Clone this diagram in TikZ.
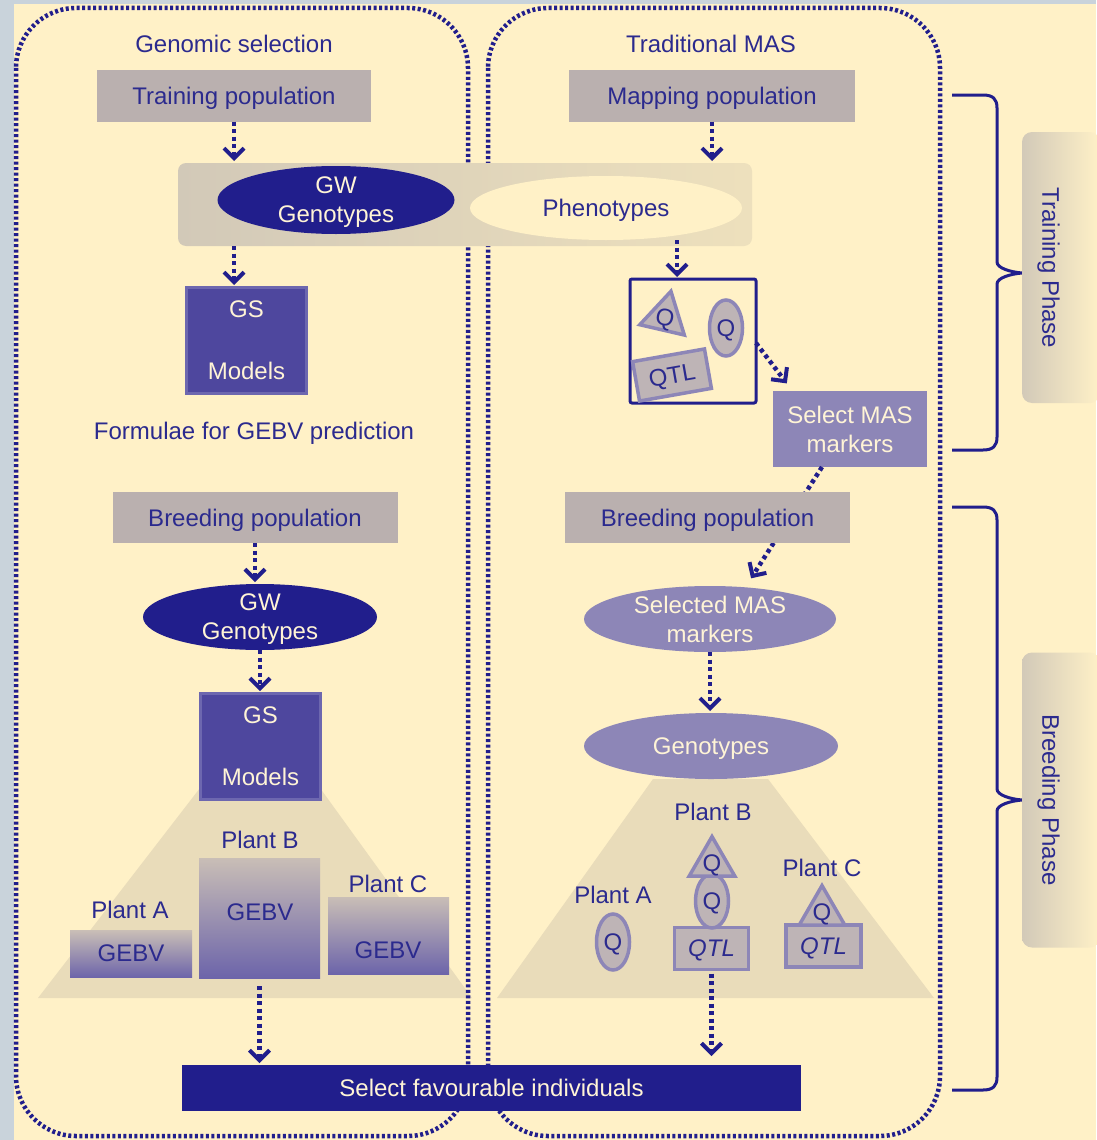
\documentclass[tikz,border=0pt]{standalone}
\usepackage{fontspec}
\setmainfont{Liberation Sans}
\usetikzlibrary{arrows.meta,shapes.geometric,calc}
\definecolor{navy}{HTML}{211E8C}
\definecolor{txt}{HTML}{2B2A8E}
\definecolor{cream}{HTML}{FFF1C7}
\definecolor{light}{HTML}{FFF4D6}
\definecolor{boxgrey}{HTML}{BAB0AF}
\definecolor{lav}{HTML}{8D86B7}
\definecolor{shapefill}{HTML}{BEB4B6}
\definecolor{trap}{HTML}{E9DCBA}
\definecolor{gsfill}{HTML}{4E479E}
\definecolor{gsedge}{HTML}{6D67AF}
\definecolor{frame}{HTML}{C9D3DB}
\definecolor{phgrey}{HTML}{D2C9B8}
\definecolor{gebvtop}{HTML}{C9BEB6}
\definecolor{gebvbot}{HTML}{6C64AA}
\tikzset{
  conn/.style={navy, line width=4.5pt, dash pattern=on 4pt off 3.5pt,
    -{Straight Barb[length=10pt,width=20pt,line width=4pt]}, shorten >=2pt},
  panel/.style={navy, line width=4.5pt, dash pattern=on 3pt off 2.5pt, rounded corners=60pt},
  gbox/.style={fill=boxgrey, minimum height=51pt},
  gsbox/.style={fill=gsfill, draw=gsedge, line width=3pt, text=light, align=center,
    minimum width=120pt, minimum height=106pt},
  gebv/.style={top color=gebvtop, bottom color=gebvbot},
  qell/.style={ellipse, fill=shapefill, draw=lav, line width=3.5pt, minimum width=33pt, minimum height=56pt},
  qtri/.style={regular polygon, regular polygon sides=3, fill=shapefill, draw=lav, line width=3.5pt, minimum size=50pt},
  qrect/.style={fill=shapefill, draw=lav, line width=3.5pt},
  brace/.style={navy, line width=3pt},
  phase/.style={rounded corners=10pt, left color=phgrey, right color=cream},
}
\begin{document}
\begin{tikzpicture}[x=1pt,y=-1pt,font=\fontsize{24}{29}\selectfont,
  every node/.style={inner sep=0pt,outer sep=0pt,text=txt,text depth=0pt}]
\useasboundingbox (0,0) rectangle (1096,1140);
\fill[frame] (0,0) rectangle (1096,1140);
\fill[cream] (14,4) rectangle (1096,1140);
% trapezoids
\fill[trap] (200,788) -- (320,788) -- (472,998) -- (38,998) -- cycle;
\fill[trap] (653,779) -- (768,779) -- (934,998) -- (497,998) -- cycle;
% panels
\draw[panel] (16,8) rectangle (468,1136);
\draw[panel] (488,8) rectangle (940,1136);

% titles
\node (gstitle) at (234,44) {Genomic selection};
\node (mastitle) at (711,44) {Traditional MAS};
\node[gbox, minimum width=274pt] (train) at (234,96) {Training population};
\node[gbox, minimum width=286pt] (mapp) at (712,96) {Mapping population};
\node[rounded corners=8pt, left color=phgrey, right color=trap!80!cream, minimum width=574pt, minimum height=83pt] (gwbar) at (465,204.5) {};
\node[ellipse, fill=navy, text=light, minimum width=237pt, minimum height=68pt, align=center, inner ysep=-4pt] (gw1) at (336,200) {GW\\Genotypes};
\node[ellipse, fill=cream, minimum width=272pt, minimum height=64pt] (pheno) at (606,208) {Phenotypes};

% left column
\node[gsbox] (gsm1) at (246.5,340) {GS\\[33pt]Models};
\node (formula) at (254,431) {Formulae for GEBV prediction};
\node[gbox, minimum width=285pt] (bp1) at (255,517.5) {Breeding population};
\node[ellipse, fill=navy, text=light, minimum width=234pt, minimum height=66pt, align=center, inner ysep=-4pt] (gw2) at (260,617) {GW\\Genotypes};
\node[gsbox] (gsm2) at (260.5,746) {GS\\[33pt]Models};
\node[gebv, minimum width=122pt, minimum height=47pt] (gebvA) at (131,954) {};
\node (gA) at (131,953) {GEBV};
\node[gebv, minimum width=121pt, minimum height=120pt] (gebvB) at (259.5,918) {};
\node (gB) at (260,912) {GEBV};
\node[gebv, minimum width=121pt, minimum height=77pt] (gebvC) at (388.5,935.5) {};
\node (gC) at (388,950) {GEBV};
\node (plA) at (130,910) {Plant A};
\node (plB) at (260,840) {Plant B};
\node (plC) at (388,884) {Plant C};

% bottom bar
\node[fill=navy, text=light, minimum width=619pt, minimum height=46pt] (sel) at (491.5,1088) {Select favourable individuals};

% right column
\node[draw=navy, line width=3pt, minimum width=126pt, minimum height=124pt, rounded corners=2pt] (qbox) at (693,341) {};
\node[qtri, minimum size=48pt, rotate=-13] (tq1) at (665,317) {Q};
\node[qell] (eq1) at (726,328) {Q};
\node[qrect, minimum width=73pt, minimum height=40pt, rotate=10] (qtl1) at (672,375) {QTL};
\node[fill=lav, text=light, minimum width=154pt, minimum height=76pt, align=center] (selmas) at (850,429) {Select MAS\\markers};
\node[ellipse, fill=lav, text=light, minimum width=252pt, minimum height=66pt, align=center, inner ysep=-4pt] (selmk) at (710,619) {Selected MAS\\markers};
\draw[conn] ($(selmas.south)+(-28,0)$) -- ($(selmk.north)+(40,-6)$);
\node[gbox, minimum width=285pt] (bp2) at (707.5,517.5) {Breeding population};
\node[ellipse, fill=lav, text=light, minimum width=254pt, minimum height=66pt] (geno) at (711,746) {Genotypes};

\node (prA) at (613,895) {Plant A};
\node (prB) at (713,812) {Plant B};
\node (prC) at (822,868) {Plant C};
\node[qell] (eA) at (613,942) {Q};
\node[qrect, minimum width=74pt, minimum height=42pt] (qB) at (711.5,948.5) {\itshape QTL};
\node[qell, minimum height=54pt] (eB) at (712,901) {Q};
\node[qtri] (tB) at (712,863) {Q};
\node[qrect, minimum width=75pt, minimum height=42pt] (qC) at (823.5,946) {\itshape QTL};
\node[qtri] (tC) at (822,912) {Q};

% connectors
\draw[conn] (train.south) -- (train.south |- gwbar.north);
\draw[conn] (mapp.south) -- (mapp.south |- gwbar.north);
\coordinate (lx) at (234,0);
\draw[conn] (gwbar.south -| lx) -- (gsm1.north -| lx);
\coordinate (px) at (677,0);
\draw[conn] (pheno.south -| px) -- (qbox.north -| px);
\draw[conn] ($(qbox.east)+(0,2)$) -- ($(selmas.north west)+(15,-6)$);
\draw[conn] (bp1.south) -- (bp1.south |- gw2.north);
\draw[conn] (gw2.south) -- (gw2.south |- gsm2.north);
\draw[conn, shorten <=8pt] (gebvB.south) -- (gebvB.south |- sel.north);
\draw[conn] (selmk.south) -- (selmk.south |- geno.north);
\draw[conn, shorten <=4pt, shorten >=9pt] (qB.south) -- (qB.south |- sel.north);

% braces
\draw[brace] (952,95) -- (983,95) .. controls (993,95) and (997,99) .. (997,108) -- (997,262)
  .. controls (997,268) and (1010,272) .. (1022,273) .. controls (1010,274) and (997,278) .. (997,284)
  -- (997,437) .. controls (997,446) and (993,450) .. (983,450) -- (952,450);
\draw[brace] (952,507) -- (983,507) .. controls (993,507) and (997,511) .. (997,520) -- (997,789)
  .. controls (997,795) and (1010,799) .. (1022,800) .. controls (1010,801) and (997,805) .. (997,811)
  -- (997,1077) .. controls (997,1086) and (993,1090) .. (983,1090) -- (952,1090);

% phase labels
\node[phase, minimum width=78pt, minimum height=271pt] (tpbox) at (1061,267.5) {};
\node[rotate=-90] (tptext) at (1051,268) {Training Phase};
\node[phase, minimum width=78pt, minimum height=295pt] (bpbox) at (1061,800) {};
\node[rotate=-90] (bptext) at (1051,800) {Breeding Phase};
\end{tikzpicture}
\end{document}
